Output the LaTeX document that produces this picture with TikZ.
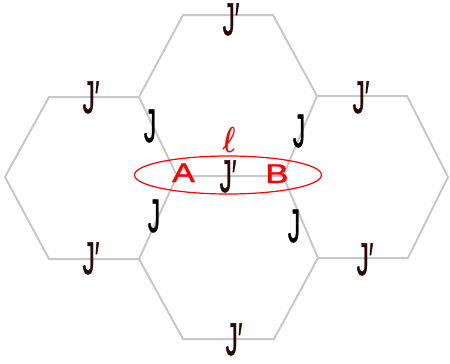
\documentclass[tikz,border=0pt]{standalone}
\usepackage{fontspec}
\usepackage{bm}
\setmainfont{Liberation Sans}
\newfontfamily\jfont[FakeBold=1.2]{Liberation Sans}
\definecolor{edgegrey}{HTML}{C8C8C8}
\definecolor{jpcol}{HTML}{2E0808}
\definecolor{lred}{HTML}{FF0000}
\tikzset{
  hexedge/.style={draw=edgegrey, line width=2pt, line join=round},
  jlab/.style={anchor=base, inner sep=0pt, text=black, font=\jfont\fontsize{47}{47}\selectfont},
  jplab/.style={anchor=base, inner sep=0pt, text=jpcol, font=\jfont\fontsize{46}{46}\selectfont},
  ablab/.style={anchor=base, inner sep=0pt, text=lred, font=\jfont\fontsize{27}{27}\selectfont},
}
\newcommand{\Jn}{\scalebox{0.52}[1]{J}}
\newcommand{\Jp}{\scalebox{0.53}[1]{J′}}
\begin{document}
\begin{tikzpicture}[x=1pt,y=-1pt]
\useasboundingbox (0,0) rectangle (450,364);
% vertices
\coordinate (t1) at (183,15);
\coordinate (t2) at (273,15);
\coordinate (tr) at (317,96);
\coordinate (tl) at (139,97);
\coordinate (A) at (177,176);
\coordinate (B) at (283,176);
\coordinate (l1) at (49,97);
\coordinate (l0) at (5,177);
\coordinate (l2) at (49,259);
\coordinate (bl) at (139,259);
\coordinate (r1) at (407,96);
\coordinate (r0) at (448,177);
\coordinate (r2) at (408,258);
\coordinate (br) at (318,258);
\coordinate (b1) at (183,339);
\coordinate (b2) at (274,339);
% hexagons
\draw[hexedge] (A) -- (tl) -- (t1) -- (t2) -- (tr) -- (B) -- cycle;
\draw[hexedge] (tl) -- (l1) -- (l0) -- (l2) -- (bl) -- (A);
\draw[hexedge] (tr) -- (r1) -- (r0) -- (r2) -- (br) -- (B);
\draw[hexedge] (bl) -- (b1) -- (b2) -- (br);
% loop
\draw[lred, line width=1.2pt] (228,175) ellipse [x radius=93.5, y radius=19];
% labels
\node[jplab] (jtop) at (231,35) {\Jp};
\node[jplab] (jlt) at (91,113) {\Jp};
\node[jplab] (jrt) at (361,113) {\Jp};
\node[jplab] (jlb) at (91,274) {\Jp};
\node[jplab] (jrb) at (365,275) {\Jp};
\node[jplab] (jbot) at (234,355) {\Jp};
\node[jplab] (jc) at (228,192) {\Jp};
\node[jlab] (j1) at (150,142) {\Jn};
\node[jlab] (j2) at (299,147) {\Jn};
\node[jlab] (j3) at (154,232) {\Jn};
\node[jlab] (j4) at (294,242) {\Jn};
\node[ablab] (la) at (183.5,182) {\scalebox{1.25}[1]{A}};
\node[ablab] (lb) at (277,183) {\scalebox{1.3}[1]{B}};
\node[anchor=base, inner sep=0pt, text=lred, font=\fontsize{24.88}{26}\selectfont] (ell) at (229,152) {\scalebox{1.1}[1.45]{$\bm{\ell}$}};
\end{tikzpicture}
\end{document}
